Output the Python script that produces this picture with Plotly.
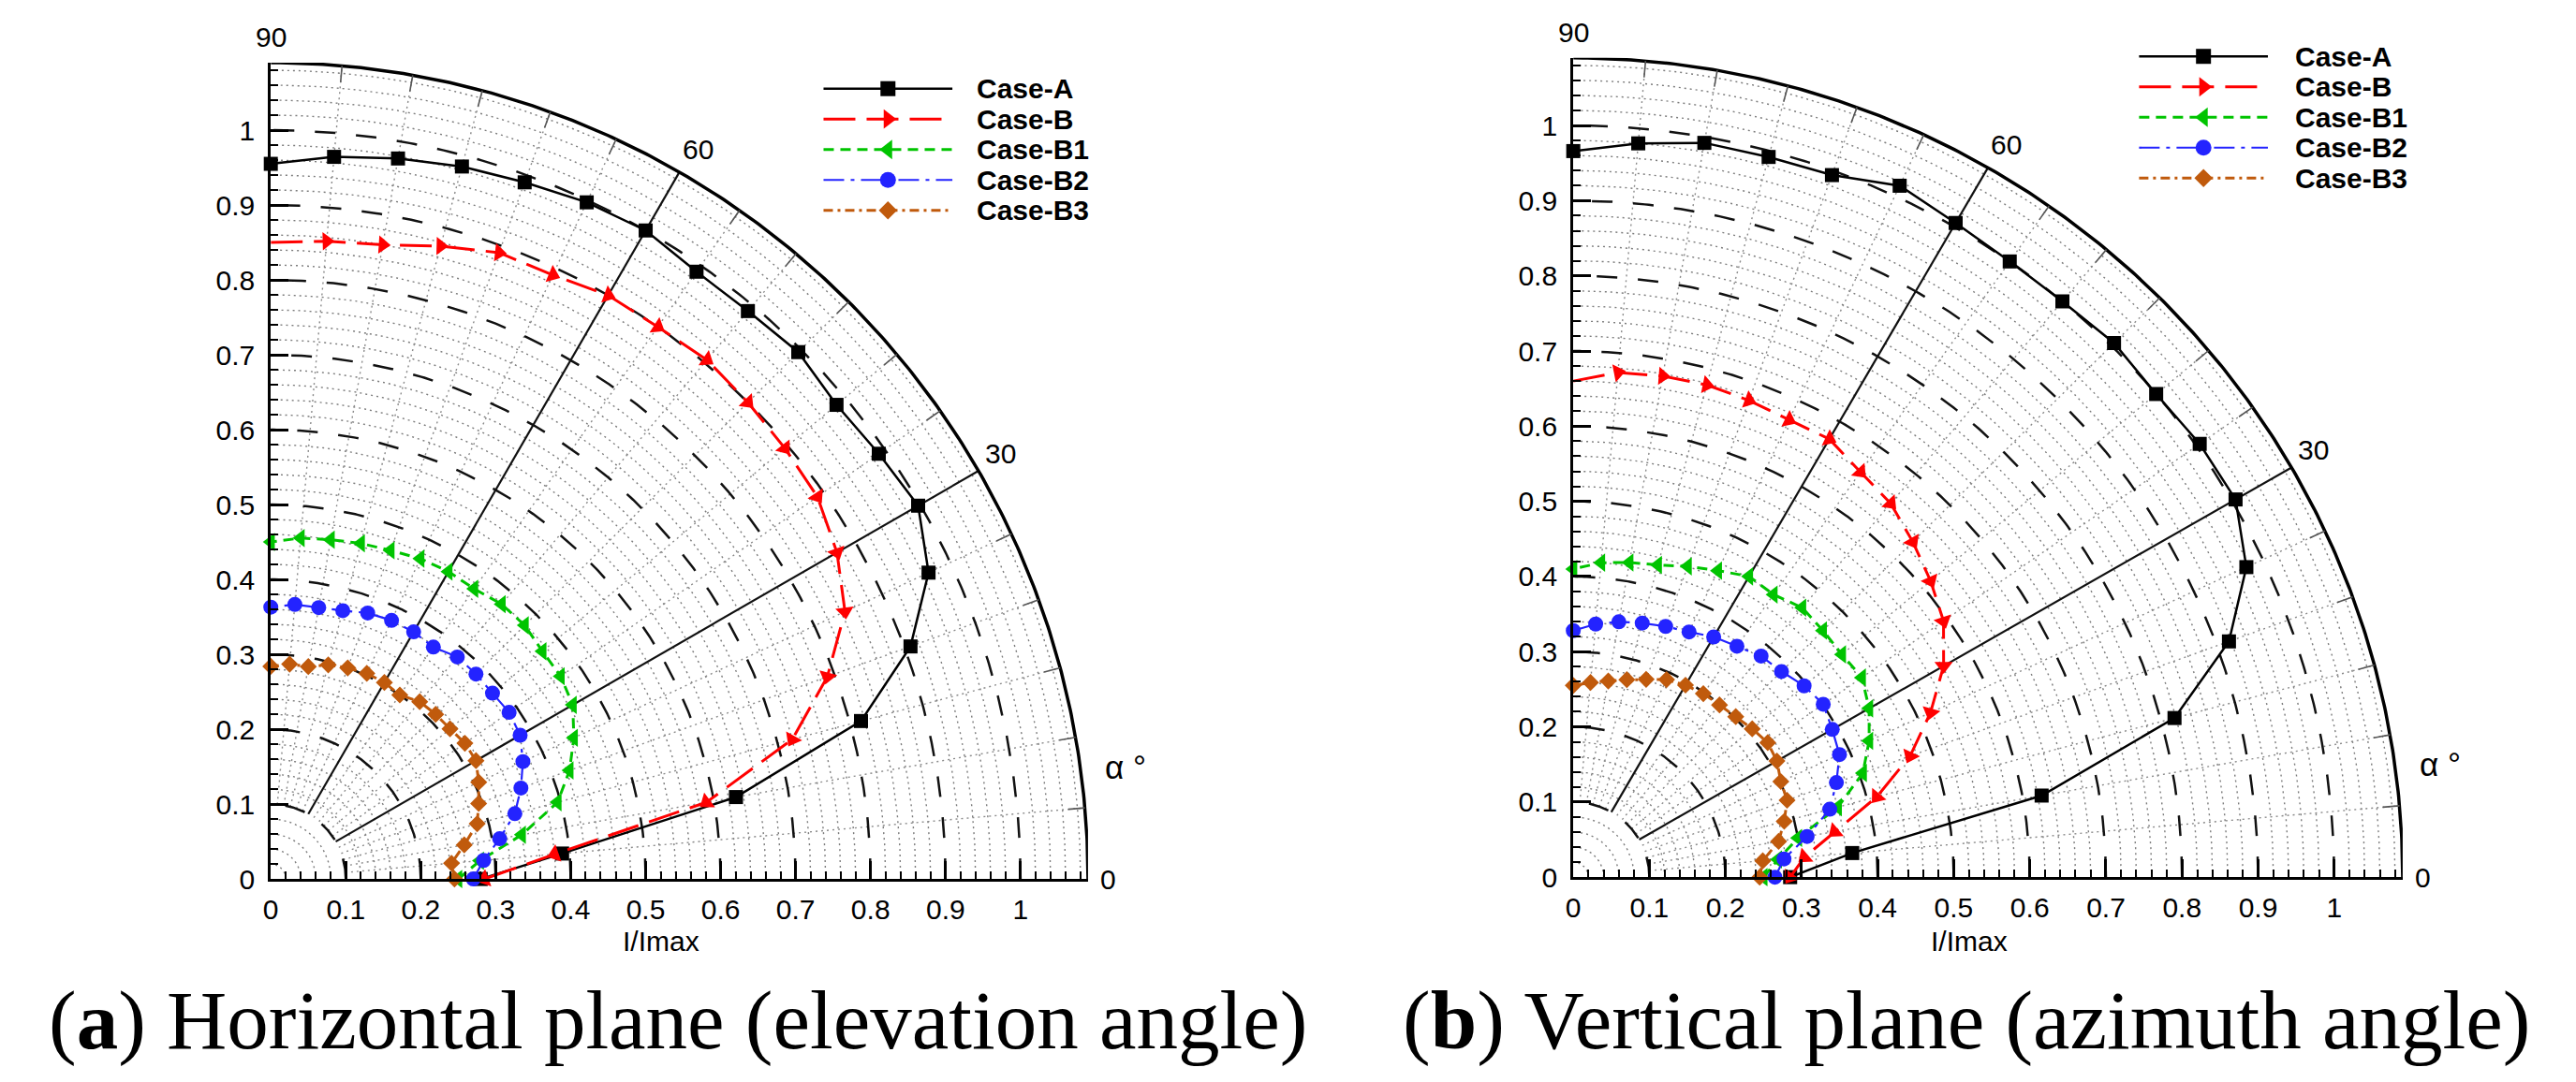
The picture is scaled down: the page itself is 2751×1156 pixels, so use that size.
import numpy as np
import plotly.graph_objects as go

# ---------------- data (I/Imax versus angle alpha, degrees) ----------------
ANGLES = [0, 5, 10, 15, 20, 25, 30, 35, 40, 45, 50, 55, 60, 65, 70, 75, 80, 85, 90]
CASES = ["Case-A", "Case-B", "Case-B1", "Case-B2", "Case-B3"]

# (a) Horizontal plane (elevation angle)
A_a = [0.28, 0.39, 0.63, 0.815, 0.908, 0.968, 0.997, 0.99, 0.985, 0.995, 0.99, 0.99, 1.0, 0.997, 0.99, 0.985, 0.977, 0.968, 0.955]
B_a = [0.285, 0.38, 0.59, 0.72, 0.79, 0.845, 0.872, 0.89, 0.895, 0.9, 0.905, 0.9, 0.9, 0.89, 0.89, 0.875, 0.86, 0.855, 0.85]
B1_a = [0.25, 0.28, 0.34, 0.396, 0.424, 0.446, 0.465, 0.472, 0.473, 0.479, 0.479, 0.473, 0.474, 0.472, 0.467, 0.464, 0.46, 0.457, 0.45]
B2_a = [0.27, 0.285, 0.31, 0.337, 0.355, 0.371, 0.384, 0.388, 0.386, 0.387, 0.387, 0.378, 0.381, 0.381, 0.378, 0.371, 0.368, 0.368, 0.363]
B3_a = [0.245, 0.242, 0.262, 0.285, 0.295, 0.306, 0.316, 0.316, 0.312, 0.311, 0.309, 0.30, 0.303, 0.303, 0.30, 0.296, 0.288, 0.288, 0.284]

# (b) Vertical plane (azimuth angle)
A_b = [0.285, 0.368, 0.625, 0.818, 0.917, 0.976, 1.005, 1.005, 1.0, 1.005, 1.0, 1.0, 1.005, 1.015, 0.994, 0.992, 0.992, 0.98, 0.966]
B_b = [0.285, 0.305, 0.349, 0.413, 0.471, 0.518, 0.562, 0.594, 0.613, 0.631, 0.649, 0.658, 0.673, 0.671, 0.675, 0.678, 0.677, 0.674, 0.66]
B1_b = [0.25, 0.27, 0.30, 0.36, 0.405, 0.429, 0.449, 0.463, 0.461, 0.464, 0.468, 0.459, 0.462, 0.45, 0.44, 0.43, 0.425, 0.42, 0.41]
B2_b = [0.265, 0.278, 0.312, 0.349, 0.368, 0.386, 0.393, 0.401, 0.396, 0.387, 0.384, 0.375, 0.369, 0.36, 0.355, 0.35, 0.345, 0.338, 0.328]
B3_b = [0.245, 0.25, 0.274, 0.287, 0.299, 0.301, 0.309, 0.312, 0.307, 0.302, 0.299, 0.298, 0.295, 0.29, 0.28, 0.272, 0.265, 0.26, 0.255]

AXIS_TICKS = [0, 0.1, 0.2, 0.3, 0.4, 0.5, 0.6, 0.7, 0.8, 0.9, 1]
ANGLE_LABELS = [0, 30, 60, 90]
CAPTIONS = ["(<b>a</b>) Horizontal plane (elevation angle)",
            "(<b>b</b>) Vertical plane (azimuth angle)"]
X_TITLE = "I/Imax"
ALPHA_LABEL = "α °"

# ---------------- styles ----------------
W, H = 2751, 1156
R = 1.09
SANS = "Liberation Sans, Arial, sans-serif"
SERIF = "Liberation Serif, Times New Roman, serif"

STYLE = {
    "Case-A": dict(color="#000000", dash="solid", width=2.5, symbol="square", size=15),
    "Case-B": dict(color="#ff0000", dash="34px,12px", width=3, symbol="triangle-up", size=17),
    "Case-B1": dict(color="#00c400", dash="11px,7px", width=3, symbol="triangle-left", size=17),
    "Case-B2": dict(color="#2323ff", dash="22px,7px,4px,7px", width=2.2, symbol="circle", size=16),
    "Case-B3": dict(color="#c05a0c", dash="10px,5px,3px,5px", width=3, symbol="diamond", size=14),
}

# pixel layout of the two quarter plots: origin x, origin y (from top), px/unit x, px/unit y
PANELS = [
    dict(ox=274, oy=945, sx=803, sy=812, xa="x", ya="y",
         legend_rows=[88, 121, 154, 187, 220], legend_x=(866, 1004, 1028), title_x=0.52),
    dict(ox=1669, oy=943, sx=815, sy=815, xa="x2", ya="y2",
         legend_rows=[53, 86, 119, 152, 185], legend_x=(2275, 2413, 2440), title_x=0.52),
]
DATA = [
    {"Case-A": A_a, "Case-B": B_a, "Case-B1": B1_a, "Case-B2": B2_a, "Case-B3": B3_a},
    {"Case-A": A_b, "Case-B": B_b, "Case-B1": B1_b, "Case-B2": B2_b, "Case-B3": B3_b},
]


def to_xy(r, ang):
    r = np.asarray(r, float)
    t = np.radians(np.asarray(ang, float))
    return r * np.cos(t), r * np.sin(t)


def join(segs):
    xs, ys = [], []
    for sx, sy in segs:
        xs += list(sx) + [None]
        ys += list(sy) + [None]
    return xs, ys


def line_trace(segs, xa, ya, color, width, dash="solid"):
    xs, ys = join(segs)
    return go.Scatter(x=xs, y=ys, xaxis=xa, yaxis=ya, mode="lines", hoverinfo="skip",
                      showlegend=False, line=dict(color=color, width=width, dash=dash))


fig = go.Figure()
annotations = []

for p, data in zip(PANELS, DATA):
    xa, ya = p["xa"], p["ya"]
    th = np.linspace(0, 90, 271)
    # fine dotted circles every 0.02
    fine = [r for r in np.arange(0.02, R - 0.005, 0.02) if abs(r * 10 - round(r * 10)) > 1e-6]
    fig.add_trace(line_trace([to_xy(np.full_like(th, r), th) for r in fine], xa, ya,
                             "#7c7c7c", 1.4, "2px,4px"))
    # dotted radial lines every 5 degrees
    rad = [a for a in range(5, 90, 5) if a not in (30, 60)]
    fig.add_trace(line_trace([to_xy([0.1, R], [a, a]) for a in rad], xa, ya,
                             "#8a8a8a", 1.4, "2px,4px"))
    # dashed circles every 0.1
    fig.add_trace(line_trace([to_xy(np.full_like(th, r / 10), th) for r in range(1, 11)], xa, ya,
                             "#111111", 2.5, "22px,22px"))
    # 30 / 60 degree spokes
    fig.add_trace(line_trace([to_xy([0.1, R], [a, a]) for a in (30, 60)], xa, ya, "#111111", 2.2))
    # outer boundary with small ticks
    fig.add_trace(line_trace([to_xy(np.full_like(th, R), th)], xa, ya, "#000000", 3.5))
    fig.add_trace(line_trace([to_xy([R - 0.022, R], [a, a]) for a in rad], xa, ya, "#555555", 1.6))

    # data curves
    for name in CASES:
        st = STYLE[name]
        x, y = to_xy(data[name], ANGLES)
        marker = dict(symbol=st["symbol"], size=st["size"], color=st["color"], line=dict(width=0))
        if name == "Case-B":
            # arrow-like markers follow the curve, travelling from 90 deg to 0 deg
            x, y = x[::-1], y[::-1]
            marker["angleref"] = "previous"
        fig.add_trace(go.Scatter(x=x, y=y, xaxis=xa, yaxis=ya, mode="lines+markers", name=name,
                                 showlegend=False, cliponaxis=False,
                                 line=dict(color=st["color"], width=st["width"], dash=st["dash"]),
                                 marker=marker))

    # angle labels
    for a in ANGLE_LABELS:
        ax_, ay_ = R * np.cos(np.radians(a)), R * np.sin(np.radians(a))
        if a == 0:
            kw = dict(xanchor="left", yanchor="middle", xshift=11, yshift=0)
        elif a == 90:
            kw = dict(xanchor="center", yanchor="bottom", xshift=0, yshift=9)
        elif a == 60:
            kw = dict(xanchor="left", yanchor="bottom", xshift=1, yshift=6)
        else:
            kw = dict(xanchor="left", yanchor="bottom", xshift=5, yshift=0)
        annotations.append(dict(x=ax_, y=ay_, xref=xa, yref=ya, text=str(a), showarrow=False,
                                font=dict(family=SANS, size=30, color="black"), **kw))
    annotations.append(dict(x=R, y=0.15, xref=xa, yref=ya, text=ALPHA_LABEL, showarrow=False,
                            xanchor="left", yanchor="middle", xshift=16,
                            font=dict(family=SANS, size=35, color="black")))
    # x title
    annotations.append(dict(x=p["title_x"], y=(H - 1012) / H, xref=xa, yref="paper", text=X_TITLE,
                            showarrow=False, xanchor="center", yanchor="middle",
                            font=dict(family=SANS, size=30, color="black")))

    # custom legend (long Tecplot-style samples) on a pixel overlay axis
    x0, x1, xt = p["legend_x"]
    for name, yrow in zip(CASES, p["legend_rows"]):
        st = STYLE[name]
        fig.add_trace(go.Scatter(x=[x0, x1], y=[yrow, yrow], xaxis="x3", yaxis="y3", mode="lines",
                                 showlegend=False, hoverinfo="skip",
                                 line=dict(color=st["color"], width=st["width"], dash=st["dash"])))
        sym = "triangle-right" if name == "Case-B" else st["symbol"]
        fig.add_trace(go.Scatter(x=[(x0 + x1) / 2], y=[yrow], xaxis="x3", yaxis="y3", mode="markers",
                                 showlegend=False, hoverinfo="skip", cliponaxis=False,
                                 marker=dict(symbol=sym, size=st["size"] + 1, color=st["color"],
                                             line=dict(width=0))))
        annotations.append(dict(x=xt, y=yrow, xref="x3", yref="y3", text="<b>%s</b>" % name,
                                showarrow=False, xanchor="left", yanchor="middle",
                                font=dict(family=SANS, size=30, color="black")))

# captions
for cap, cx in zip(CAPTIONS, [710 / W, 2090 / W]):
    annotations.append(dict(x=cx, y=(H - 1098) / H, xref="paper", yref="paper", text=cap,
                            showarrow=False, xanchor="center", yanchor="middle",
                            font=dict(family=SERIF, size=89, color="black")))


def axis_common():
    return dict(range=[0, R], showgrid=False, zeroline=False, showline=True, linecolor="black",
                linewidth=3, ticks="inside", ticklen=19, tickwidth=3, tickcolor="black",
                tickmode="array", tickvals=AXIS_TICKS, ticktext=[("%g" % v) for v in AXIS_TICKS],
                tickfont=dict(family=SANS, size=30, color="black"),
                minor=dict(ticks="inside", ticklen=8, tickwidth=1.6, tickcolor="black",
                           tickmode="linear", tick0=0, dtick=0.02, showgrid=False),
                fixedrange=True, layer="above traces")


layout = dict(width=W, height=H, margin=dict(l=0, r=0, t=0, b=0), paper_bgcolor="white",
              plot_bgcolor="rgba(0,0,0,0)", showlegend=False, annotations=annotations)

for i, p in enumerate(PANELS):
    sfx = "" if i == 0 else "2"
    xd = [p["ox"] / W, (p["ox"] + R * p["sx"]) / W]
    yd = [(H - p["oy"]) / H, (H - p["oy"] + R * p["sy"]) / H]
    xax = axis_common()
    xax.update(domain=xd, anchor="y" + sfx, ticklabelstandoff=4)
    yax = axis_common()
    yax.update(domain=yd, anchor="x" + sfx, ticklabelstandoff=8)
    layout["xaxis" + sfx] = xax
    layout["yaxis" + sfx] = yax

layout["xaxis3"] = dict(domain=[0, 1], range=[0, W], visible=False, anchor="y3", fixedrange=True)
layout["yaxis3"] = dict(domain=[0, 1], range=[H, 0], visible=False, anchor="x3", fixedrange=True)

fig.update_layout(**layout)
fig.write_html("out.html")
